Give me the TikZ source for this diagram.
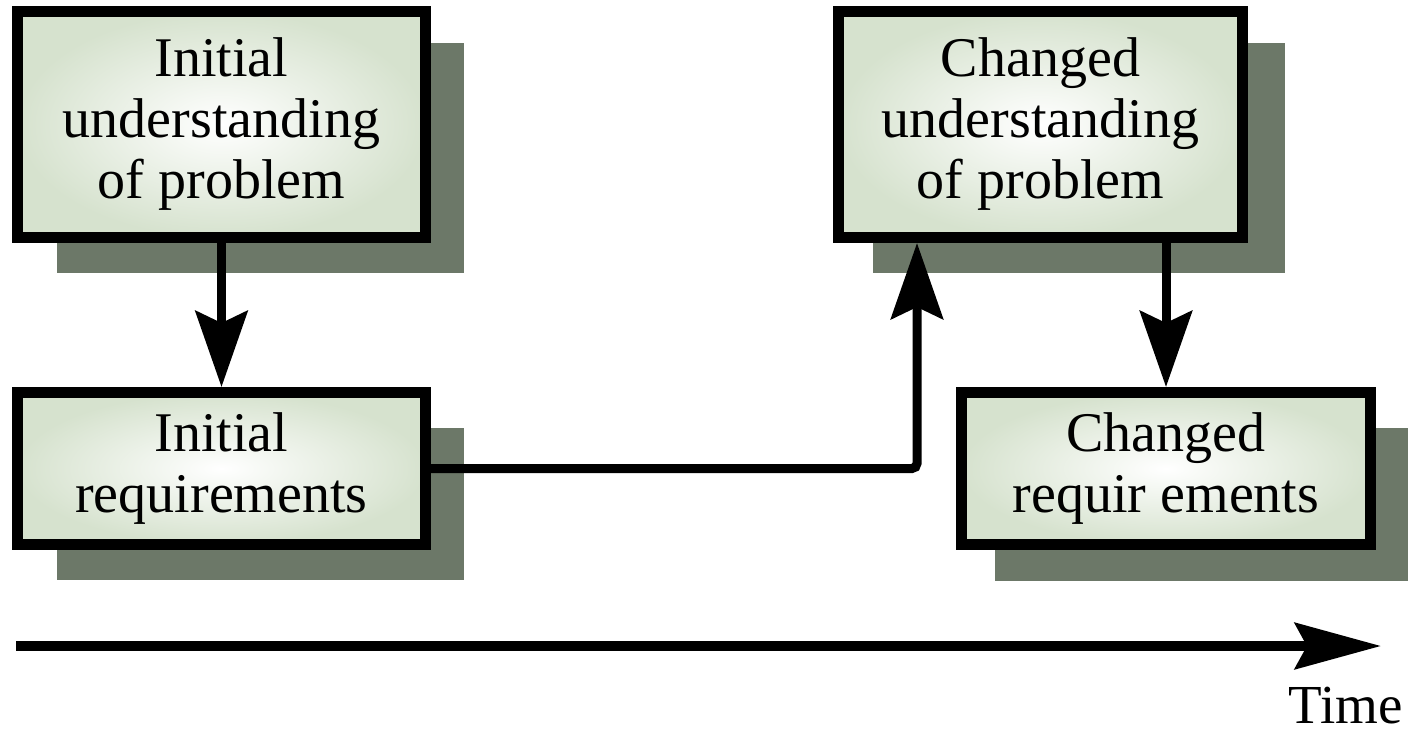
\documentclass[tikz,border=0pt]{standalone}
\usepackage{fontspec}
\setmainfont{Liberation Serif}
\usetikzlibrary{arrows.meta,calc}

\definecolor{shadowgreen}{RGB}{108,120,104}
\definecolor{boxedge}{RGB}{214,226,206}

\tikzset{
  phasebox/.style={draw=black, line width=11pt, rectangle, inner sep=0pt,
    inner color=white, outer color=boxedge, align=center,
    font=\fontsize{56}{61}\selectfont},
  boxshadow/.style={fill=shadowgreen, draw=none},
  flow/.style={line width=9pt, -{Stealth[length=76pt, width=52pt, inset=12pt]}},
  timeline/.style={line width=10pt, -{Stealth[length=86pt, width=46pt, inset=12pt]}}
}

\begin{document}
\begin{tikzpicture}[x=1pt, y=-1pt]
  \useasboundingbox (0,0) rectangle (1411,734);

  % drop shadows behind the boxes
  \fill[boxshadow] (57,43) rectangle (464,273);
  \fill[boxshadow] (57,428) rectangle (464,580);
  \fill[boxshadow] (873,43) rectangle (1285,273);
  \fill[boxshadow] (995,428) rectangle (1408,581);

  % boxes
  \node[phasebox, minimum width=408pt, minimum height=226pt] (iu) at (221.5,124.5)
    {Initial\\understanding\\of problem};
  \node[phasebox, minimum width=408pt, minimum height=152pt] (ir) at (221.5,468.5)
    {Initial\\requirements};
  \node[phasebox, minimum width=404pt, minimum height=226pt] (cu) at (1040.5,124.5)
    {Changed\\understanding\\of problem};
  \node[phasebox, minimum width=409pt, minimum height=152pt] (cr) at (1166,468.5)
    {Changed\\requir ements};

  % connectors
  \draw[flow] (iu.south) -- (ir.north);
  \coordinate (bend) at (917,0);
  \draw[flow, rounded corners=5pt] (ir.east) -| (bend |- cu.south);
  \draw[flow] (cr.north |- cu.south) -- (cr.north);

  % time axis
  \coordinate (tstart) at (16,646);
  \coordinate (tend) at (1381,646);
  \draw[timeline] (tstart) -- (tend);
  \node[anchor=base east, font=\fontsize{55}{60}\selectfont, inner sep=0pt] (time) at (1403,723) {Time};
\end{tikzpicture}
\end{document}
